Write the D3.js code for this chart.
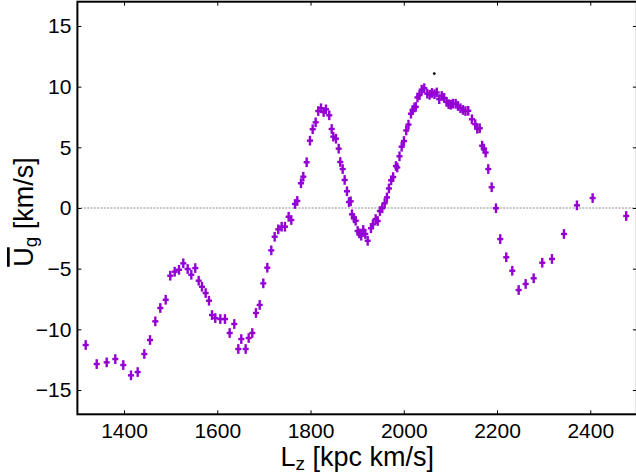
<!DOCTYPE html>
<html>
<head>
<meta charset="utf-8">
<script src="https://cdn.jsdelivr.net/npm/d3@7"></script>
<style>
  html, body { margin: 0; padding: 0; background: #fff; }
  svg { display: block; }
  text { font-family: "Liberation Sans", Arial, Helvetica, sans-serif; fill: #000; }
</style>
</head>
<body>
<svg id="chart" width="636" height="474"></svg>
<script>
// Angular momentum L_z [kpc km/s]
const lz = [
  1317.8, 1341.4, 1362.8, 1381.3, 1398.4, 1414.9, 1429.3, 1443.5, 1455.7, 1467.1,
  1477.8, 1489.4, 1499.2, 1508.7, 1517.9, 1527.1, 1536.5, 1544.3, 1552.8, 1560.1,
  1567.2, 1575.1, 1582.2, 1588.7, 1595.7, 1606.5, 1616.5, 1626.6, 1636.5, 1645.1,
  1651.5, 1660.9, 1667.4, 1675.1, 1683.0, 1691.0, 1698.7, 1707.3, 1715.8, 1723.1,
  1730.8, 1738.1, 1745.2, 1753.1, 1758.7, 1766.7, 1771.6, 1779.5, 1784.5, 1791.7,
  1798.8, 1804.6, 1811.0, 1816.6, 1822.4, 1828.2, 1833.1, 1840.2, 1845.4, 1848.8,
  1854.6, 1860.4, 1863.8, 1868.9, 1873.2, 1878.2, 1882.5, 1886.1, 1888.9, 1893.2,
  1896.8, 1901.1, 1904.6, 1908.8, 1913.1, 1917.4, 1922.6, 1929.6, 1933.9, 1939.7,
  1944.0, 1948.8, 1953.9, 1959.0, 1963.9, 1968.2, 1972.9, 1977.2, 1983.2, 1986.0,
  1990.8, 1995.5, 2000.4, 2005.3, 2010.1, 2015.4, 2019.1, 2022.9, 2025.7, 2029.4,
  2033.7, 2038.4, 2043.9, 2050.4, 2055.5, 2060.4, 2065.8, 2070.7, 2076.1, 2081.4,
  2086.6, 2091.9, 2096.2, 2100.8, 2105.5, 2111.3, 2116.2, 2121.6, 2126.9, 2132.3,
  2138.3, 2146.2, 2153.3, 2157.6, 2162.9, 2168.1, 2171.5, 2175.6, 2181.2, 2188.5,
  2197.7, 2206.9, 2219.8, 2232.7, 2246.4, 2261.4, 2278.6, 2297.0, 2317.8, 2343.5,
  2371.4, 2405.1, 2477.1
];
// Mean radial velocity U_g [km/s]
const ug = [
  -11.29, -12.86, -12.72, -12.45, -12.94, -13.79, -13.52, -12.03, -10.88, -9.34,
  -8.24, -7.56, -5.58, -5.25, -5.09, -4.56, -5.03, -5.50, -4.95, -5.99,
  -6.49, -7.01, -7.64, -8.82, -9.07, -9.15, -9.15, -10.30, -9.56, -11.62,
  -10.80, -11.62, -10.71, -10.30, -8.65, -7.99, -6.21, -4.92, -3.49, -2.37,
  -1.76, -1.54, -1.54, -0.72, -0.99, 0.33, 0.58, 2.04, 2.58, 3.77,
  5.55, 6.49, 7.06, 7.99, 8.22, 7.91, 8.13, 7.64, 6.51, 5.88,
  5.71, 4.89, 3.79, 3.21, 2.31, 1.38, 0.49, 0.55, -0.52, -0.85,
  -1.05, -1.90, -2.09, -2.28, -1.81, -2.14, -2.70, -1.67, -1.34, -0.91,
  -1.07, -0.25, -0.02, 0.39, 0.87, 1.61, 2.28, 2.55, 3.46, 3.34,
  4.26, 5.05, 5.52, 6.39, 6.87, 7.77, 8.08, 8.28, 8.34, 9.11,
  9.30, 9.75, 9.87, 9.42, 9.33, 9.48, 9.38, 9.52, 8.97, 9.23,
  9.07, 8.74, 8.56, 8.51, 8.60, 8.59, 8.41, 8.22, 8.08, 7.99,
  8.01, 7.31, 6.91, 6.53, 6.57, 5.13, 4.90, 4.57, 3.21, 1.71,
  -0.02, -2.56, -4.06, -5.17, -6.76, -6.26, -5.79, -4.51, -4.20, -2.14,
  0.22, 0.82, -0.66
];
// Error bar half-widths
const lzErr = 6.5;
const ugErr = 0.4;
// Single stray black point
const strayLz = [2065.4];
const strayUg = [11.08];

const xTicks = [1400, 1600, 1800, 2000, 2200, 2400];
const yTicks = [-15, -10, -5, 0, 5, 10, 15];

const svg = d3.select("#chart");
const x = d3.scaleLinear().domain([1300, 2500]).range([77.4, 636.9]);
const y = d3.scaleLinear().domain([-17, 17]).range([414.3, 1.7]);

// zero reference line
svg.append("line")
  .attr("x1", x(1300)).attr("x2", x(2500))
  .attr("y1", y(0)).attr("y2", y(0))
  .attr("stroke", "#8c8c8c").attr("stroke-width", 1)
  .attr("stroke-dasharray", "2,1.3");

// data with error bars
const color = "#9400d3";
const pts = lz.map((l, i) => ({ l, u: ug[i] }));
const g = svg.append("g");
g.selectAll("line.v").data(pts).enter().append("line")
  .attr("x1", d => x(d.l)).attr("x2", d => x(d.l))
  .attr("y1", d => y(d.u - ugErr)).attr("y2", d => y(d.u + ugErr))
  .attr("stroke", color).attr("stroke-width", 2.4);
g.selectAll("line.h").data(pts).enter().append("line")
  .attr("x1", d => x(d.l - lzErr)).attr("x2", d => x(d.l + lzErr))
  .attr("y1", d => y(d.u)).attr("y2", d => y(d.u))
  .attr("stroke", color).attr("stroke-width", 2.4);

svg.selectAll("circle.stray").data(strayLz).enter().append("circle")
  .attr("cx", d => x(d)).attr("cy", (d, i) => y(strayUg[i]))
  .attr("r", 1.4).attr("fill", "#000");

// axes
const fmt = d3.format("d");
const axB = svg.append("g").attr("transform", `translate(0,${y(-17)})`)
  .call(d3.axisBottom(x).tickValues(xTicks).tickFormat(fmt).tickSizeInner(-4).tickSizeOuter(0).tickPadding(8.5));
const axT = svg.append("g").attr("transform", `translate(0,${y(17)})`)
  .call(d3.axisTop(x).tickValues(xTicks).tickSizeInner(-4).tickSizeOuter(0).tickFormat(""));
const axL = svg.append("g").attr("transform", `translate(${x(1300)},0)`)
  .call(d3.axisLeft(y).tickValues(yTicks).tickFormat(d => d < 0 ? "\u2212" + Math.abs(d) : String(d)).tickSizeInner(-4).tickSizeOuter(0).tickPadding(6));
const axR = svg.append("g").attr("transform", `translate(${x(2500)},0)`)
  .call(d3.axisRight(y).tickValues(yTicks).tickSizeInner(-4).tickSizeOuter(0).tickFormat(""));

[axB, axT, axL, axR].forEach(a => {
  a.select(".domain").remove();
  a.selectAll(".tick line").attr("stroke", "#000").attr("stroke-width", 1);
  a.selectAll("text").attr("font-size", 21).attr("font-family", "Liberation Sans, Arial, sans-serif");
});

// frame
svg.append("rect")
  .attr("x", x(1300)).attr("y", y(17))
  .attr("width", x(2500) - x(1300)).attr("height", y(-17) - y(17))
  .attr("fill", "none").attr("stroke", "#000").attr("stroke-width", 2);

// x label
const xl = svg.append("text")
  .attr("x", (x(1300) + x(2500)) / 2).attr("y", 466)
  .attr("text-anchor", "middle").attr("font-size", 27);
xl.append("tspan").text("L");
xl.append("tspan").attr("font-size", 19).attr("dy", 4).text("z");
xl.append("tspan").attr("dy", -4).text(" [kpc km/s]");

// y label
const yl = svg.append("text")
  .attr("transform", `translate(33,${(y(17) + y(-17)) / 2 + 4}) rotate(-90)`)
  .attr("text-anchor", "middle").attr("font-size", 27);
yl.append("tspan").style("text-decoration", "overline").text("U");
yl.append("tspan").attr("font-size", 19).attr("dy", 4).text("g");
yl.append("tspan").attr("dy", -4).text(" [km/s]");
</script>
</body>
</html>
